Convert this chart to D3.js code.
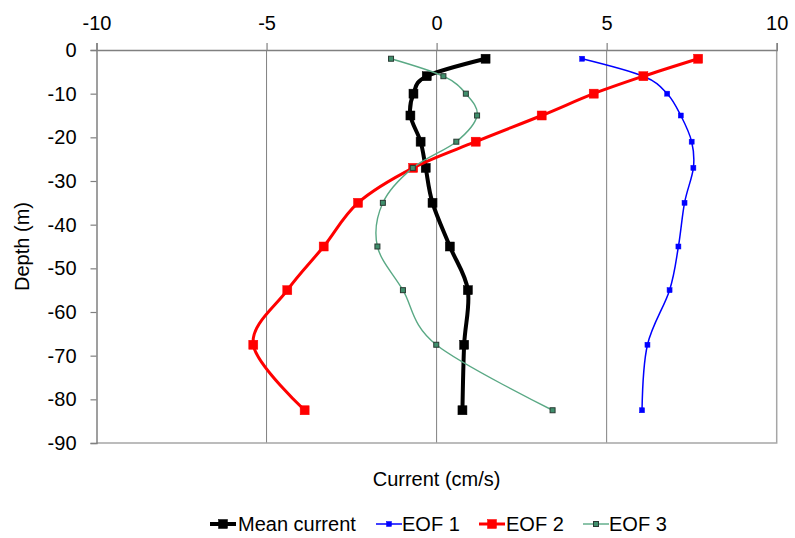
<!DOCTYPE html>
<html>
<head>
<meta charset="utf-8">
<script src="https://cdn.jsdelivr.net/npm/d3@7"></script>
<style>
  html, body { margin: 0; padding: 0; background: #fff; }
  svg { display: block; font-family: "Liberation Sans", Arial, sans-serif; }
</style>
</head>
<body>
<svg id="chart" width="795" height="538"></svg>
<script>
// Depth of each measurement (m, negative downward)
const depths = [-2, -6, -10, -15, -21, -27, -35, -45, -55, -67.5, -82.5];

// Current profiles (cm/s)
const meanCurrent = [1.44, -0.29, -0.68, -0.77, -0.47, -0.32, -0.12, 0.39, 0.92, 0.81, 0.76];
const eof1 = [4.28, 6.08, 6.78, 7.18, 7.5, 7.55, 7.29, 7.11, 6.85, 6.2, 6.04];
const eof2 = [7.69, 6.08, 4.62, 3.09, 1.15, -0.69, -2.31, -3.32, -4.39, -5.39, -3.88];
const eof3 = [-1.34, 0.2, 0.86, 1.19, 0.58, -0.7, -1.58, -1.74, -0.99, -0.01, 3.41];

const xTicks = [-10, -5, 0, 5, 10];
const yTicks = [0, -10, -20, -30, -40, -50, -60, -70, -80, -90];
const seriesNames = ["Mean current", "EOF 1", "EOF 2", "EOF 3"];

const styles = [
  { color: "#000000", width: 4,   size: 9, fill: "#000000", stroke: "#000000" },
  { color: "#0000ff", width: 1.5, size: 5, fill: "#0000ff", stroke: "#0000ff" },
  { color: "#ff0000", width: 3,   size: 9, fill: "#ff0000", stroke: "#ff0000" },
  { color: "#5aa985", width: 1.4, size: 5, fill: "#3f8f6c", stroke: "#2a3a33" }
];
const seriesValues = [meanCurrent, eof1, eof2, eof3];

const svg = d3.select("#chart");
const plotLeft = 96.5, plotRight = 776.7, plotTop = 50, plotBottom = 443;

const x = d3.scaleLinear().domain([-10, 10]).range([plotLeft, plotRight]);
const y = d3.scaleLinear().domain([0, -90]).range([plotTop, plotBottom]);

const axisColor = "#808080";
const fontSize = 20;
const hyphen = d => String(d).replace("\u2212", "-");

// Vertical gridlines
svg.append("g").selectAll("line")
  .data(xTicks.filter(t => t > -10 && t < 10))
  .join("line")
  .attr("x1", d => x(d)).attr("x2", d => x(d))
  .attr("y1", plotTop).attr("y2", plotBottom)
  .attr("stroke", axisColor).attr("stroke-width", 1);

// Plot area border (right and bottom)
svg.append("path")
  .attr("d", `M${plotLeft},${plotBottom}H${plotRight}V${plotTop}`)
  .attr("fill", "none").attr("stroke", "#a6a6a6").attr("stroke-width", 1.5);

// Top x axis
const xAxis = d3.axisTop(x).tickValues(xTicks).tickSize(7).tickPadding(13)
  .tickFormat(hyphen);
const gx = svg.append("g").attr("transform", `translate(0,${plotTop})`).call(xAxis);
gx.select(".domain").attr("stroke", axisColor).attr("stroke-width", 1.5);
gx.selectAll(".tick line").attr("stroke", axisColor).attr("stroke-width", 1.2);
gx.selectAll(".tick text").attr("font-size", fontSize).attr("fill", "#000")
  .attr("font-family", "Liberation Sans, Arial, sans-serif");

// Left y axis
const yAxis = d3.axisLeft(y).tickValues(yTicks).tickSize(6).tickPadding(14)
  .tickFormat(hyphen);
const gy = svg.append("g").attr("transform", `translate(${plotLeft},0)`).call(yAxis);
gy.select(".domain").attr("stroke", axisColor).attr("stroke-width", 1.5);
gy.selectAll(".tick line").attr("stroke", axisColor).attr("stroke-width", 1.2);
gy.selectAll(".tick text").attr("font-size", fontSize).attr("fill", "#000")
  .attr("font-family", "Liberation Sans, Arial, sans-serif");

// Axis titles
svg.append("text")
  .attr("x", x(0)).attr("y", 486)
  .attr("text-anchor", "middle").attr("font-size", fontSize)
  .text("Current (cm/s)");
svg.append("text")
  .attr("transform", `translate(29,${(plotTop + plotBottom) / 2}) rotate(-90)`)
  .attr("text-anchor", "middle").attr("font-size", fontSize)
  .text("Depth (m)");

// Profiles, smoothed
const line = d3.line()
  .x(d => x(d[0]))
  .y(d => y(d[1]))
  .curve(d3.curveCardinal.tension(0));

seriesValues.forEach((vals, i) => {
  const st = styles[i];
  const pts = vals.map((v, j) => [v, depths[j]]);
  const g = svg.append("g");
  g.append("path")
    .attr("d", line(pts))
    .attr("fill", "none")
    .attr("stroke", st.color)
    .attr("stroke-width", st.width)
    .attr("stroke-linejoin", "round");
  g.selectAll("rect")
    .data(pts)
    .join("rect")
    .attr("x", d => x(d[0]) - st.size / 2)
    .attr("y", d => y(d[1]) - st.size / 2)
    .attr("width", st.size).attr("height", st.size)
    .attr("fill", st.fill)
    .attr("stroke", st.stroke)
    .attr("stroke-width", i === 3 ? 1 : 0.5);
});

// Legend
const legendItems = [
  { x: 210, textX: 238 },
  { x: 376, textX: 402 },
  { x: 479, textX: 506 },
  { x: 583, textX: 609 }
];
const legendY = 524;
seriesNames.forEach((name, i) => {
  const st = styles[i];
  const li = legendItems[i];
  const g = svg.append("g");
  g.append("line")
    .attr("x1", li.x).attr("x2", li.x + 26)
    .attr("y1", legendY).attr("y2", legendY)
    .attr("stroke", st.color).attr("stroke-width", st.width);
  g.append("rect")
    .attr("x", li.x + 13 - st.size / 2).attr("y", legendY - st.size / 2)
    .attr("width", st.size).attr("height", st.size)
    .attr("fill", st.fill).attr("stroke", st.stroke)
    .attr("stroke-width", i === 3 ? 1 : 0.5);
  g.append("text")
    .attr("x", li.textX).attr("y", legendY + 7)
    .attr("font-size", fontSize)
    .text(name);
});
</script>
</body>
</html>
